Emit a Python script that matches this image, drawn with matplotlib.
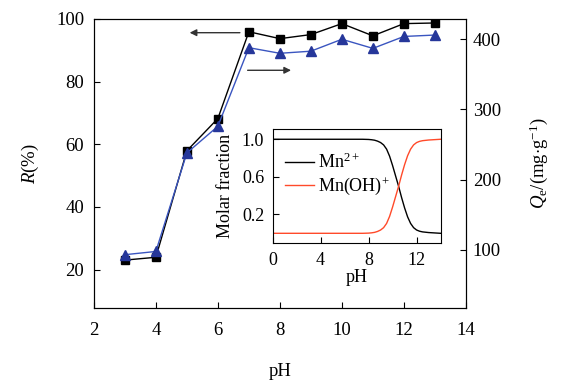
import numpy as np
import matplotlib
matplotlib.use("Agg")
import matplotlib.pyplot as plt

plt.rcParams['font.family'] = ['Liberation Serif', 'DejaVu Serif']
plt.rcParams['mathtext.fontset'] = 'custom'
plt.rcParams['mathtext.rm'] = 'Liberation Serif'
plt.rcParams['mathtext.it'] = 'Liberation Serif:italic'
plt.rcParams['font.size'] = 13.5

# main data
ph = [3, 4, 5, 6, 7, 8, 9, 10, 11, 12, 13]
removal = [23.0, 23.9, 57.9, 68.2, 95.9, 93.7, 95.0, 98.5, 94.6, 98.5, 98.7]
qe = [93, 97.6, 238, 276, 388, 380, 383, 400, 387, 404, 406]

# inset speciation data
ph_spec = [0, 2, 4, 6, 7.5, 8, 8.25, 8.5, 8.75, 9, 9.25, 9.5, 9.75, 10,
           10.25, 10.5, 10.75, 11, 11.25, 11.5, 11.75, 12, 12.25, 12.5,
           13, 14]
mn2 = [1.0, 1.0, 1.0, 1.0, 1.0, 0.998, 0.995, 0.99, 0.98, 0.965, 0.94,
       0.895, 0.82, 0.72, 0.61, 0.50, 0.38, 0.27, 0.175, 0.105, 0.06,
       0.035, 0.022, 0.015, 0.008, 0.0]
mnoh = [0.0, 0.0, 0.0, 0.0, 0.0, 0.002, 0.005, 0.01, 0.02, 0.035, 0.06,
        0.105, 0.18, 0.28, 0.39, 0.50, 0.62, 0.73, 0.825, 0.895, 0.94,
        0.965, 0.978, 0.985, 0.992, 1.0]

fig = plt.figure(figsize=(5.62, 3.86), dpi=100)
ax = fig.add_axes([0.167, 0.202, 0.662, 0.749])
ax2 = ax.twinx()

ax.plot(ph, removal, color='black', lw=1, marker='s', ms=6, zorder=3)
ax2.plot(ph, qe, color='#3a55c0', lw=1, marker='^', ms=7.5,
         markerfacecolor='#26379a', markeredgecolor='#26379a', zorder=3)

ax.set_xlim(2, 14)
ax.set_ylim(7.7, 100)
ax2.set_ylim(17, 429)
ax.set_xticks(np.arange(2, 15, 2))
ax.set_yticks([20, 40, 60, 80, 100])
ax2.set_yticks([100, 200, 300, 400])
ax.tick_params(axis='x', direction='in', length=4, pad=10)
ax.tick_params(axis='y', direction='in', length=4, pad=7)
ax2.tick_params(direction='in', length=4, pad=5)

ax.set_xlabel('pH', labelpad=17)
ax.set_ylabel('$R$(%)', labelpad=11)
ax2.set_ylabel(r'$Q_{\mathrm{e}}$/(mg$\cdot$g$^{-1}$)', labelpad=19)

# arrows pointing at the axes
ax.annotate('', xy=(5.0, 95.6), xytext=(6.8, 95.6),
            arrowprops=dict(arrowstyle='-|>', color='#333333', lw=1,
                            mutation_scale=10))
ax.annotate('', xy=(8.45, 83.6), xytext=(6.87, 83.6),
            arrowprops=dict(arrowstyle='-|>', color='#333333', lw=1,
                            mutation_scale=10))

# inset
ins = fig.add_axes([0.485, 0.370, 0.299, 0.296])
ins.plot(ph_spec, mn2, color='black', lw=1, label='Mn$^{2+}$')
ins.plot(ph_spec, mnoh, color='#ff4a2a', lw=1, label='Mn(OH)$^{+}$')
ins.set_xlim(0, 14)
ins.set_ylim(-0.105, 1.11)
ins.set_xticks([0, 4, 8, 12])
ins.set_yticks([0.2, 0.6, 1.0])
ins.set_yticklabels(['0.2', '0.6', '1.0'])
ins.tick_params(direction='in', length=4, pad=6, labelsize=13)
ins.set_xlabel('pH', labelpad=0, fontsize=13)
ins.set_ylabel('Molar fraction', labelpad=6, fontsize=13)
ins.legend(loc='upper left', bbox_to_anchor=(0.0, 0.9), frameon=False,
           fontsize=13, handlelength=1.6, handletextpad=0.2,
           labelspacing=0.15, borderaxespad=0.3)

fig.savefig('out.png', dpi=100)
